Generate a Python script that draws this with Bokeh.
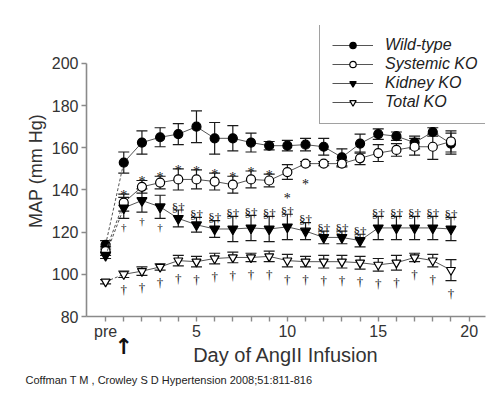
from bokeh.plotting import figure
from bokeh.models import (ColumnDataSource, Whisker, TeeHead, Legend, LegendItem,
                          FixedTicker, Range1d, LinearAxis, Title)
from bokeh.core.properties import value
from bokeh.embed import file_html
from bokeh.resources import INLINE

# ---------------- data ----------------
days = [0, 1, 2, 3, 4, 5, 6, 7, 8, 9, 10, 11, 12, 13, 14, 15, 16, 17, 18, 19]
x_ticks = [0, 1, 2, 3, 4, 5, 6, 7, 8, 9, 10, 11, 12, 13, 14, 15, 16, 17, 18, 19, 20]
x_tick_labels = {0: "pre", 5: "5", 10: "10", 15: "15", 20: "20"}
y_ticks = [80, 100, 120, 140, 160, 180, 200]
infusion_start_day = 1

wild_type = [114, 153, 162.5, 165, 166.5, 170, 164.5, 164.5, 162.5, 161, 161, 161.5,
             160.5, 155.5, 162, 166.5, 165.5, 162.5, 167.5, 162]
wild_type_sem = [2, 5, 5.5, 4.5, 5, 7.5, 7.5, 6, 4.5, 2, 2.5, 3, 4, 4, 4.5, 2.5, 2, 3, 2, 5]

systemic_ko = [111, 134, 141.5, 143.5, 145, 145, 144, 142.5, 145, 144.5, 148.5, 152.5,
               152.5, 152.5, 155, 157.5, 159, 160.5, 160.5, 163]
systemic_ko_sem = [2, 4, 3, 3, 5, 4.5, 4, 4, 4, 3, 3.5, 1, 1, 1.5, 3, 4, 3, 4, 6, 5]

kidney_ko = [109, 131.5, 135, 132, 126.5, 123.5, 121.5, 121.5, 122, 121.5, 122.5, 120.5,
             117.5, 117.5, 116, 122, 122, 122, 122, 121.5]
kidney_ko_sem = [1.5, 5, 5.5, 5.5, 4, 3.5, 4, 6, 6, 6, 6, 4, 3, 3, 3, 5.5, 5.5, 5.5, 5.5, 5.5]

total_ko = [96.5, 100, 101.5, 103.5, 106.5, 106, 107.5, 108, 108, 108.5, 106.5, 106,
            106, 106, 105.5, 104.5, 105.5, 108, 106.5, 102]
total_ko_sem = [1, 1.5, 2, 1.5, 2.5, 2.5, 2.5, 2.5, 2, 2.5, 3, 2.5, 3, 3, 3, 3, 3.5, 2, 3, 5]

# significance marks (days)
systemic_star_above = [1, 2, 3, 4, 5, 6, 7, 8, 9]
systemic_star_below = [10, 11]
kidney_dagger_below = [1, 2, 3]
kidney_sect_above = [4, 5, 6, 7, 8, 9, 10, 11, 12, 13, 14, 15, 16, 17, 18, 19]
total_dagger_below = [1, 2, 3, 4, 5, 6, 7, 8, 9, 10, 11, 12, 13, 14, 15, 16, 17, 18, 19]

series_names = ["Wild-type", "Systemic KO", "Kidney KO", "Total KO"]
citation = "Coffman T M , Crowley S D Hypertension 2008;51:811-816"

# ---------------- figure ----------------
SANS = "Liberation Sans"
SERIF = "Liberation Serif"
TXT = "#333333"
SYM = "#111111"
AXC = "#8a8a8a"

W, H = 500, 395
B_LEFT, B_RIGHT, B_TOP, B_BOTTOM = 86, 15, 25, 79
Y0, Y1 = 80, 218

p = figure(width=W, height=H, x_range=Range1d(-1.05, 20.9), y_range=Range1d(Y0, Y1),
           output_backend="svg", toolbar_location=None,
           min_border_left=B_LEFT, min_border_right=B_RIGHT,
           min_border_top=B_TOP, min_border_bottom=B_BOTTOM)
p.outline_line_color = None
p.grid.visible = False
p.background_fill_color = "white"
p.border_fill_color = "white"


def src(vals, errs):
    return ColumnDataSource(dict(
        x=days, y=vals,
        lower=[v - e for v, e in zip(vals, errs)],
        upper=[v + e for v, e in zip(vals, errs)]))


specs = [
    (wild_type, wild_type_sem, "circle", 9, "black"),
    (systemic_ko, systemic_ko_sem, "circle", 9, "white"),
    (kidney_ko, kidney_ko_sem, "inverted_triangle", 10, "black"),
    (total_ko, total_ko_sem, "inverted_triangle", 9, "white"),
]

items = []
for name, (vals, errs, marker, size, fill) in zip(series_names, specs):
    s = src(vals, errs)
    w = Whisker(source=s, base="x", upper="upper", lower="lower",
                line_color="#1a1a1a", line_width=1.2,
                upper_head=TeeHead(size=11, line_color="#1a1a1a", line_width=1.2),
                lower_head=TeeHead(size=11, line_color="#1a1a1a", line_width=1.2))
    p.add_layout(w)
    p.line(x=days[:2], y=vals[:2], line_color="#555555", line_width=1, line_dash="3 2")
    ln = p.line(x=days[1:], y=vals[1:], line_color="#555555", line_width=1)
    sc = p.scatter("x", "y", source=s, marker=marker, size=size, fill_color=fill,
                   line_color="black", line_width=1.2)
    items.append(LegendItem(label=name, renderers=[ln, sc]))


def sig(day_list, vals, errs, sign, text, size, yoff):
    ys = [vals[d] + sign * errs[d] for d in day_list]
    p.text(x=day_list, y=ys, text=[text] * len(day_list),
           text_font=value(SERIF), text_font_size=size, text_color=SYM,
           text_align="center", text_baseline="alphabetic", y_offset=yoff)


sig(systemic_star_above, systemic_ko, systemic_ko_sem, 1, "*", "14px", 1.5)
sig(systemic_star_below, systemic_ko, systemic_ko_sem, -1, "*", "14px", 19)
sig(kidney_dagger_below, kidney_ko, kidney_ko_sem, -1, "\u2020", "11px", 9)
sig(kidney_sect_above, kidney_ko, kidney_ko_sem, 1, "\u00a7\u2020", "13px", -3)
sig(total_dagger_below, total_ko, total_ko_sem, -1, "\u2020", "13px", 12.5)

# ---------------- axes ----------------
xax = p.xaxis[0]
yax = p.yaxis[0]
xax.ticker = FixedTicker(ticks=x_ticks)
xax.major_label_overrides = {t: x_tick_labels.get(t, "") for t in x_ticks}
yax.ticker = FixedTicker(ticks=y_ticks)
yax.bounds = (80, 200)
for ax in (xax, yax):
    ax.axis_line_color = AXC
    ax.axis_line_width = 1.6
    ax.major_tick_line_color = AXC
    ax.major_tick_line_width = 1.4
    ax.major_tick_out = 5
    ax.major_tick_in = 0
    ax.minor_tick_line_color = None
    ax.major_label_text_font = SANS
    ax.major_label_text_font_size = "16px"
    ax.major_label_text_color = TXT
    ax.axis_label_text_font = SANS
    ax.axis_label_text_font_style = "normal"
    ax.axis_label_text_color = TXT

xax.major_label_standoff = 1
yax.axis_label = "MAP (mm Hg)"
yax.axis_label_text_font_size = "18px"
yax.major_label_standoff = 3
yax.axis_label_standoff = 3

# second, line-less axis below: the infusion-start arrow and the x axis title
arrow_axis = LinearAxis(
    ticker=FixedTicker(ticks=[infusion_start_day]),
    major_label_overrides={infusion_start_day: "\u2191"},
    axis_line_color=None, major_tick_line_color=None, minor_tick_line_color=None,
    major_label_text_font="DejaVu Sans", major_label_text_font_style="bold",
    major_label_text_font_size="22px", major_label_text_color="#111111",
    major_label_standoff=-15,
    axis_label="Day of AngII Infusion", axis_label_standoff=-18,
    axis_label_text_font=SANS, axis_label_text_font_style="normal",
    axis_label_text_font_size="20px", axis_label_text_color=TXT)
p.add_layout(arrow_axis, "below")

# ---------------- legend ----------------
legend = Legend(items=items, location=(233, 192), padding=12, spacing=1,
                label_height=16, glyph_height=16, glyph_width=41, label_standoff=12,
                label_text_font=SANS, label_text_font_style="italic",
                label_text_font_size="16px", label_text_color="#222222",
                border_line_color="#444444", border_line_width=1.3,
                background_fill_color="white", background_fill_alpha=1, margin=0)
p.add_layout(legend)

# ---------------- citation ----------------
p.add_layout(Title(text=citation, align="left", offset=-61, standoff=7,
                   text_font=SANS, text_font_size="11px", text_font_style="normal",
                   text_color="#222222"), "below")

open("out.html", "w").write(file_html(p, INLINE))
